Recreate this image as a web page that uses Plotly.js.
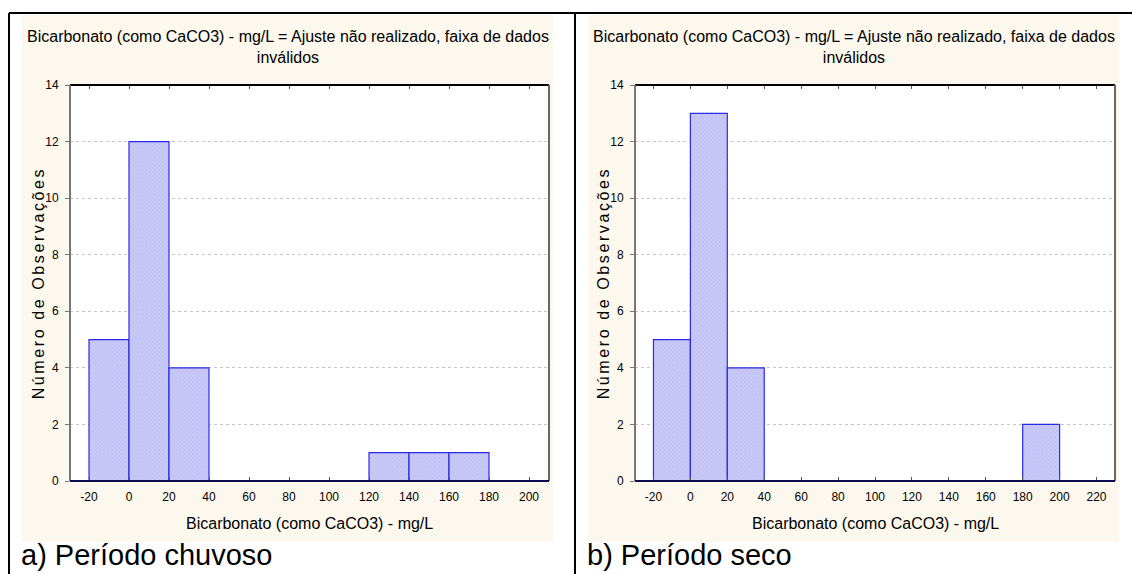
<!DOCTYPE html>
<html><head><meta charset="utf-8">
<script src="https://cdn.plot.ly/plotly-3.0.1.min.js"></script>
<style>html,body{margin:0;padding:0;background:#fff;}</style>
</head><body><div id="chart" style="width:1132px;height:574px;"></div>
<script>
// Data
const binStartsA = [-20, 0, 20, 40, 60, 80, 100, 120, 140, 160, 180];
const countsA    = [5, 12, 4, 0, 0, 0, 0, 1, 1, 1, 0];
const binStartsB = [-20, 0, 20, 40, 60, 80, 100, 120, 140, 160, 180, 200];
const countsB    = [5, 13, 4, 0, 0, 0, 0, 0, 0, 0, 2, 0];
const xTicksA = [-20, 0, 20, 40, 60, 80, 100, 120, 140, 160, 180, 200];
const xTicksB = [-20, 0, 20, 40, 60, 80, 100, 120, 140, 160, 180, 200, 220];
const yTicks = [0, 2, 4, 6, 8, 10, 12, 14];
const chartTitle = "Bicarbonato (como CaCO3) - mg/L = Ajuste não realizado, faixa de dados<br>inválidos";
const xTitle = "Bicarbonato (como CaCO3) - mg/L";
const yTitle = "Número de Observações";
const captions = ["a) Período chuvoso", "b) Período seco"];

const W = 1132, H = 574;
const px = v => v / W, py = v => 1 - v / H;
const NARROW = "'Liberation Sans Narrow', 'Arial Narrow', 'Liberation Sans', Arial, sans-serif";
const SANS = "'Liberation Sans', Arial, sans-serif";

function barTrace(xs, ys, xa, ya) {
  return {
    type: 'bar', x: xs, y: ys, width: 20, offset: 0, xaxis: xa, yaxis: ya,
    marker: {color: '#c6c6f7', line: {color: '#2a2ae6', width: 1.2},
      pattern: {shape: 'x', fgcolor: '#b2b2ee', bgcolor: '#cbcbf9', size: 3, solidity: 0.3}},
    hoverinfo: 'skip', showlegend: false
  };
}

const panels = [
  {x0: 70, x1: 549, range: [-29.5, 210], ticks: xTicksA, cream: [22, 553], cx: 288},
  {x0: 635, x1: 1115, range: [-30, 230], ticks: xTicksB, cream: [588, 1119], cx: 854}
];
const yDom = [py(481), py(85)];

function xaxisDef(p) {
  return {domain: [px(p.x0), px(p.x1)], range: p.range, tickvals: p.ticks, ticktext: p.ticks.map(String),
    ticks: 'inside', ticklen: 4, tickcolor: '#555', mirror: 'ticks', showline: false, showgrid: false,
    zeroline: false, ticklabelstandoff: 7, tickfont: {family: NARROW, size: 12, color: '#000'}, fixedrange: true};
}
function yaxisDef(anchor) {
  return {domain: yDom, range: [0, 14], tickvals: yTicks, ticks: 'outside', ticklen: 4, tickcolor: '#777',
    showline: false, showgrid: true, gridcolor: '#c4c4c4', griddash: 'dot', gridwidth: 1, zeroline: false,
    ticklabelstandoff: 4, anchor: anchor, tickfont: {family: NARROW, size: 12, color: '#000'}, fixedrange: true};
}

const shapes = [];
const annotations = [];
panels.forEach((p, i) => {
  shapes.push({type: 'rect', xref: 'paper', yref: 'paper', x0: px(p.cream[0]), x1: px(p.cream[1]),
    y0: py(542), y1: py(15), fillcolor: '#fdf8ed', line: {width: 0}, layer: 'below'});
  shapes.push({type: 'rect', xref: 'paper', yref: 'paper', x0: px(p.x0), x1: px(p.x1),
    y0: yDom[0], y1: yDom[1], fillcolor: '#ffffff', line: {width: 0}, layer: 'below'});
  // plot frame
  shapes.push({type: 'line', xref: 'paper', yref: 'paper', x0: px(p.x0), x1: px(p.x1), y0: yDom[1], y1: yDom[1], line: {color: '#000', width: 2}});
  shapes.push({type: 'line', xref: 'paper', yref: 'paper', x0: px(p.x0), x1: px(p.x0), y0: yDom[0], y1: yDom[1], line: {color: '#777', width: 2}});
  shapes.push({type: 'line', xref: 'paper', yref: 'paper', x0: px(p.x1), x1: px(p.x1), y0: yDom[0], y1: yDom[1], line: {color: '#666', width: 2}});
  shapes.push({type: 'line', xref: 'paper', yref: 'paper', x0: px(p.x0), x1: px(p.x1), y0: yDom[0], y1: yDom[0], line: {color: '#0a0a50', width: 2}});
  annotations.push({xref: 'paper', yref: 'paper', x: px(p.cx), y: py(26), text: chartTitle, showarrow: false,
    xanchor: 'center', yanchor: 'top', font: {family: NARROW, size: 16, color: '#000'}});
  annotations.push({xref: 'paper', yref: 'paper', x: px((p.x0 + p.x1) / 2), y: py(523), text: xTitle, showarrow: false,
    xanchor: 'center', yanchor: 'middle', font: {family: NARROW, size: 16, color: '#000'}});
  annotations.push({xref: 'paper', yref: 'paper', x: px(p.x0 - 32), y: py(283), text: yTitle, showarrow: false, textangle: -90,
    xanchor: 'center', yanchor: 'middle', font: {family: SANS, size: 16, color: '#000'}});
  annotations.push({xref: 'paper', yref: 'paper', x: px(p.cream[0] - 3), y: py(555), text: captions[i], showarrow: false,
    xanchor: 'left', yanchor: 'middle', font: {family: SANS, size: 29, color: '#000'}});
});
// outer frame lines
shapes.push({type: 'line', xref: 'paper', yref: 'paper', x0: px(9), x1: px(9), y0: 0, y1: py(13), line: {color: '#000', width: 2}});
shapes.push({type: 'line', xref: 'paper', yref: 'paper', x0: px(575), x1: px(575), y0: 0, y1: py(13), line: {color: '#000', width: 2}});
shapes.push({type: 'line', xref: 'paper', yref: 'paper', x0: px(9), x1: 1, y0: py(13), y1: py(13), line: {color: '#000', width: 2}});

const data = [barTrace(binStartsA, countsA, 'x', 'y'), barTrace(binStartsB, countsB, 'x2', 'y2')];
const layout = {
  width: W, height: H, margin: {l: 0, r: 0, t: 0, b: 0}, paper_bgcolor: '#fff', plot_bgcolor: 'rgba(0,0,0,0)',
  showlegend: false, bargap: 0,
  xaxis: Object.assign(xaxisDef(panels[0]), {anchor: 'y'}),
  yaxis: yaxisDef('x'),
  xaxis2: Object.assign(xaxisDef(panels[1]), {anchor: 'y2'}),
  yaxis2: yaxisDef('x2'),
  shapes: shapes, annotations: annotations
};
Plotly.newPlot('chart', data, layout, {displayModeBar: false, staticPlot: true}).then(() => {
  document.querySelectorAll('.annotation-text').forEach(t => {
    if (t.textContent === yTitle) t.style.letterSpacing = '2.6px';
  });
});
</script></body></html>
